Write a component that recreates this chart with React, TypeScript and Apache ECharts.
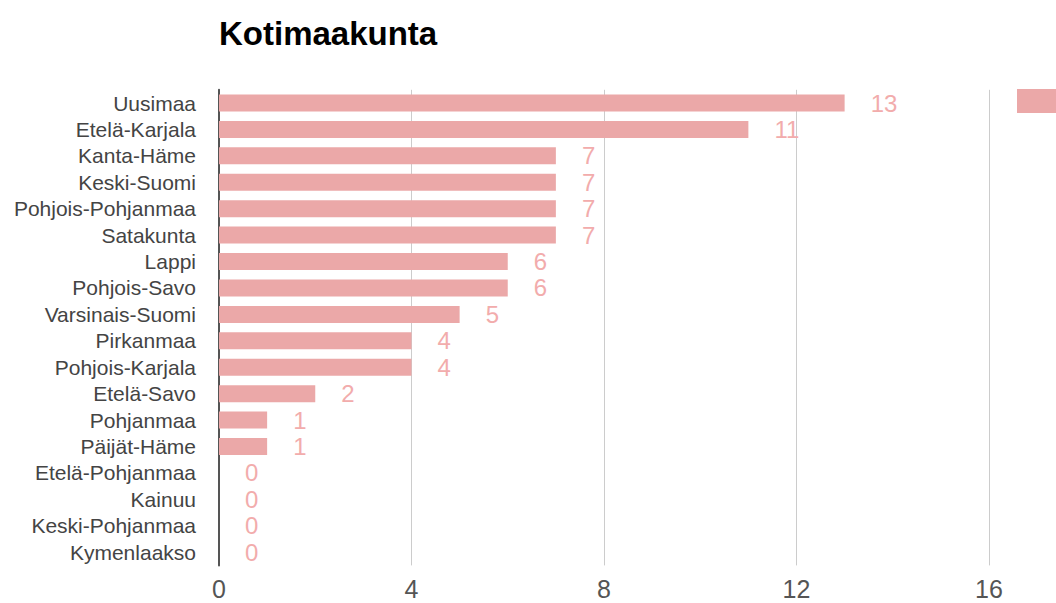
import React, { useEffect, useRef } from "react";
import * as echarts from "echarts";

const categories = [
  "Uusimaa",
  "Etelä-Karjala",
  "Kanta-Häme",
  "Keski-Suomi",
  "Pohjois-Pohjanmaa",
  "Satakunta",
  "Lappi",
  "Pohjois-Savo",
  "Varsinais-Suomi",
  "Pirkanmaa",
  "Pohjois-Karjala",
  "Etelä-Savo",
  "Pohjanmaa",
  "Päijät-Häme",
  "Etelä-Pohjanmaa",
  "Kainuu",
  "Keski-Pohjanmaa",
  "Kymenlaakso",
];
const values = [13, 11, 7, 7, 7, 7, 6, 6, 5, 4, 4, 2, 1, 1, 0, 0, 0, 0];
const xTicks = { min: 0, max: 16, interval: 4 };
const seriesName = "Kotimaakunta";

export default function App() {
  const ref = useRef<HTMLDivElement>(null);
  useEffect(() => {
    if (!ref.current) return;
    const chart = echarts.init(ref.current, undefined, { renderer: "svg" });
    const font = "Arial, 'Liberation Sans', sans-serif";
    chart.setOption({
      animation: false,
      backgroundColor: "#ffffff",
      title: {
        text: "Kotimaakunta",
        left: 214,
        top: 12,
        textStyle: { fontFamily: font, fontWeight: "bold", fontSize: 33, color: "#000000" },
      },
      legend: {
        show: true,
        left: 1012,
        top: 84,
        itemWidth: 60,
        itemHeight: 24,
        icon: "rect",
        formatter: () => "",
        data: [seriesName],
      },
      grid: { left: 219, top: 89.8, width: 770, height: 475.6, containLabel: false },
      xAxis: {
        type: "value",
        min: xTicks.min,
        max: xTicks.max,
        interval: xTicks.interval,
        axisLine: { show: false },
        axisTick: { show: false },
        splitLine: { show: true, lineStyle: { color: "#cccccc", width: 1 } },
        axisLabel: { fontFamily: font, fontSize: 25, color: "#555555", margin: 11 },
      },
      yAxis: {
        type: "category",
        inverse: true,
        data: categories,
        axisLine: { show: true, lineStyle: { color: "#555555", width: 2 } },
        axisTick: { show: false },
        axisLabel: {
          fontFamily: font,
          fontSize: 21,
          color: "#444444",
          margin: 23,
          interval: 0,
          hideOverlap: false,
        },
      },
      series: [
        {
          name: seriesName,
          type: "bar",
          data: values,
          barWidth: 17,
          itemStyle: { color: "#eba8a8" },
          label: {
            show: true,
            position: "right",
            distance: 26,
            fontFamily: font,
            fontSize: 24,
            color: "#f2acac",
          },
        },
      ],
    });
    return () => chart.dispose();
  }, []);
  return (
    <div
      ref={ref}
      style={{ position: "fixed", left: 0, top: 0, width: 1056, height: 603 }}
    />
  );
}
